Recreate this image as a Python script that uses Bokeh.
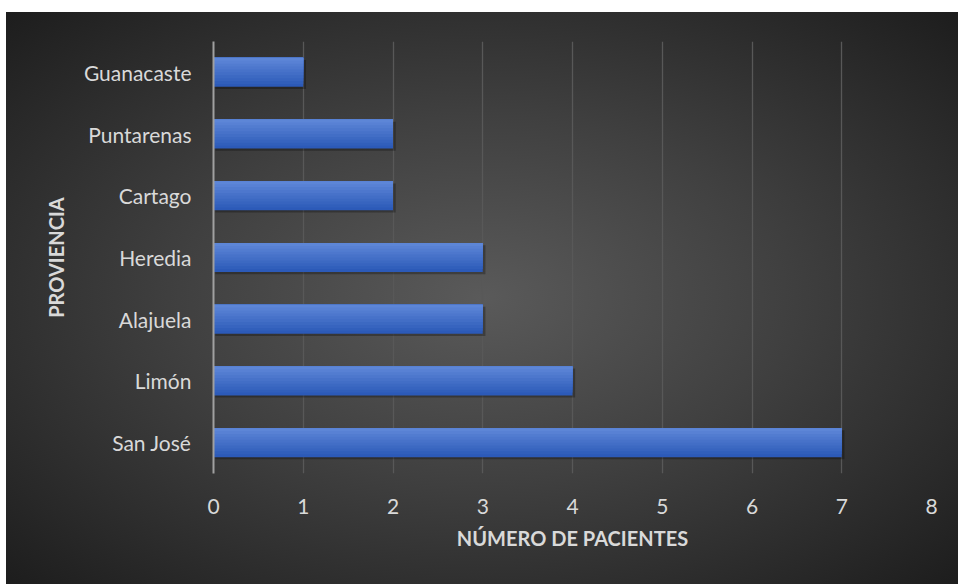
from bokeh.plotting import figure
from bokeh.models import ColumnDataSource, FactorRange
from bokeh.transform import dodge
from bokeh.embed import file_html
from bokeh.resources import INLINE

# Data (bottom to top)
provincias = ["San José", "Limón", "Alajuela", "Heredia", "Cartago", "Puntarenas", "Guanacaste"]
pacientes = [7, 4, 3, 3, 2, 2, 1]
x_ticks = [0, 1, 2, 3, 4, 5, 6, 7, 8]
x_title = "NÚMERO DE PACIENTES"
y_title = "PROVIENCIA"

src = ColumnDataSource(dict(cat=provincias, val=pacientes,
                            shadow_right=[v + 0.03 for v in pacientes]))

p = figure(width=952, height=572, y_range=FactorRange(*provincias, range_padding=0),
           x_range=(0, 8), output_backend="svg", toolbar_location=None,
           min_border_left=207, min_border_right=27, min_border_top=29, min_border_bottom=111)

p.styles = {"margin-left": "6px", "margin-top": "12px",
            "background": "radial-gradient(ellipse farthest-corner at 50% 50%, #5a5a5a 0%, #404040 45%, #1d1d1d 100%)"}
p.border_fill_color = None
p.background_fill_color = None
p.outline_line_color = None

BAR_H = 0.47
# shadow
p.hbar(y=dodge("cat", -0.035, range=p.y_range), left=0.02, right="shadow_right", height=BAR_H,
       source=src, fill_color="black", fill_alpha=0.28, line_color=None)
# gradient bar built from layered rects (bottom colour first, each next one shorter from the bottom)
top_c = (0x5d, 0x86, 0xd7)
bot_c = (0x2c, 0x5a, 0xb8)
N = 10
sh = BAR_H / N
for i in range(N):
    t = i / (N - 1)
    c = tuple(int(round(bot_c[k] * (1 - t) + top_c[k] * t)) for k in range(3))
    col = "#%02x%02x%02x" % c
    h = BAR_H - i * sh
    off = BAR_H / 2 - h / 2
    p.hbar(y=dodge("cat", off, range=p.y_range), left=0, right="val", height=h,
           source=src, fill_color=col, line_color=None)

font = "Lato"
txt = "#d9d9d9"

p.xaxis.ticker = x_ticks
p.xaxis.axis_line_color = None
p.xaxis.major_tick_line_color = None
p.xaxis.minor_tick_line_color = None
p.xaxis.major_label_text_font = font
p.xaxis.major_label_text_font_size = "21px"
p.xaxis.major_label_text_color = txt
p.xaxis.major_label_standoff = 19
p.xaxis.axis_label = x_title
p.xaxis.axis_label_text_font = font
p.xaxis.axis_label_text_font_size = "20px"
p.xaxis.axis_label_text_font_style = "bold"
p.xaxis.axis_label_text_color = txt
p.xaxis.axis_label_standoff = 9

p.yaxis.axis_line_color = "#a0a0a0"
p.yaxis.axis_line_width = 2
p.yaxis.major_tick_line_color = None
p.yaxis.minor_tick_line_color = None
p.yaxis.major_label_text_font = font
p.yaxis.major_label_text_font_size = "21px"
p.yaxis.major_label_text_color = txt
p.yaxis.major_label_standoff = 16
p.yaxis.axis_label = y_title
p.yaxis.axis_label_text_font = font
p.yaxis.axis_label_text_font_size = "20px"
p.yaxis.axis_label_text_font_style = "bold"
p.yaxis.axis_label_text_color = txt
p.yaxis.axis_label_standoff = 13

p.xgrid.grid_line_color = "#585858"
p.xgrid.grid_line_width = 1.3
p.ygrid.grid_line_color = None

open("out.html", "w").write(file_html(p, INLINE))
